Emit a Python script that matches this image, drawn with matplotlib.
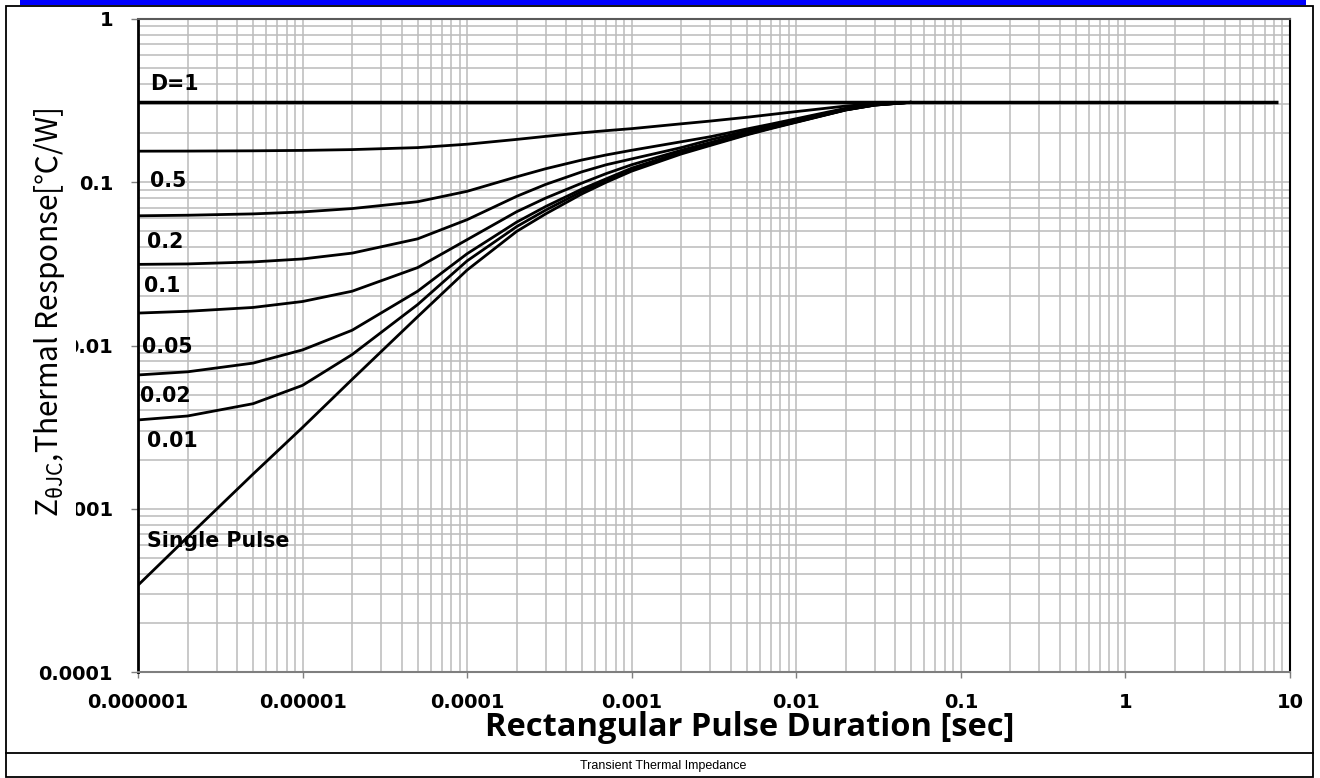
import matplotlib
matplotlib.use("Agg")
import matplotlib.pyplot as plt
from matplotlib import font_manager
from matplotlib.patches import Rectangle
from matplotlib.lines import Line2D
from matplotlib.ticker import LogLocator, NullFormatter

W, H = 1320, 778

t_read = [1e-6, 2e-6, 5e-6, 1e-5, 2e-5, 5e-5, 1e-4, 2e-4, 3e-4, 5e-4, 7e-4,
          1e-3, 2e-3, 3e-3, 5e-3, 7e-3, 1e-2, 2e-2, 3e-2, 5e-2]
# Z_thJC [C/W] for each duty cycle D
z_d05 = [0.155, 0.1552, 0.1558, 0.1567, 0.1585, 0.163, 0.171, 0.183, 0.191,
         0.201, 0.207, 0.213, 0.228, 0.237, 0.250, 0.260, 0.271, 0.293, 0.303, 0.309]
z_d02 = [0.0623, 0.0628, 0.0640, 0.0658, 0.069, 0.076, 0.088, 0.108, 0.121,
         0.137, 0.147, 0.157, 0.177, 0.190, 0.212, 0.227, 0.245, 0.284, 0.300, 0.309]
z_d01 = [0.0314, 0.0316, 0.0325, 0.0339, 0.0368, 0.0450, 0.059, 0.082, 0.097,
         0.116, 0.128, 0.139, 0.163, 0.182, 0.206, 0.222, 0.241, 0.281, 0.299, 0.309]
z_d005 = [0.0158, 0.0162, 0.0171, 0.0186, 0.0215, 0.030, 0.0445, 0.066, 0.080,
          0.099, 0.113, 0.128, 0.157, 0.175, 0.201, 0.218, 0.237, 0.279, 0.298, 0.309]
z_d002 = [0.0066, 0.0069, 0.0078, 0.0094, 0.0124, 0.0215, 0.0365, 0.057, 0.071,
          0.091, 0.105, 0.122, 0.153, 0.172, 0.198, 0.216, 0.235, 0.278, 0.297, 0.309]
z_d001 = [0.0035, 0.0037, 0.0044, 0.0057, 0.0088, 0.0178, 0.0330, 0.0535, 0.0675,
          0.088, 0.1025, 0.1195, 0.151, 0.170, 0.1965, 0.2145, 0.234, 0.2775, 0.297, 0.309]
z_single = [3.4e-4, 6.7e-4, 1.63e-3, 3.15e-3, 6.2e-3, 0.0150, 0.029, 0.050, 0.064,
            0.085, 0.100, 0.117, 0.149, 0.168, 0.195, 0.213, 0.233, 0.277, 0.297, 0.309]

t_d1 = [1e-6, 8.4]
z_d1 = [0.31, 0.31]

x_ticks = [1e-6, 1e-5, 1e-4, 1e-3, 1e-2, 1e-1, 1, 10]
x_ticklabels = ["0.000001", "0.00001", "0.0001", "0.001", "0.01", "0.1", "1", "10"]
y_ticks = [1e-4, 1e-3, 1e-2, 1e-1, 1]
y_ticklabels = ["0.0001", "0.001", "0.01", "0.1", "1"]

curve_labels = ["D=1", "0.5", "0.2", "0.1", "0.05", "0.02", "0.01", "Single Pulse"]
# label anchor (left edge, vertical centre) in pixels of the reference
label_px = [(150, 84), (150, 181), (147, 242), (144, 286), (142, 347),
            (140, 396), (147, 441), (147, 541)]


def fx(px):
    return px / W


def fy(py):
    return 1 - py / H


names = {f.name for f in font_manager.fontManager.ttflist}
cap_family = "Liberation Sans Narrow" if "Liberation Sans Narrow" in names else "Liberation Sans"

fig = plt.figure(figsize=(W / 100, H / 100), dpi=100)
ax_l, ax_r, ax_t, ax_b = 138, 1290, 19, 672
ax = fig.add_axes([fx(ax_l), fy(ax_b), (ax_r - ax_l) / W, (ax_b - ax_t) / H])
ax.set_xscale("log")
ax.set_yscale("log")
ax.set_xlim(1e-6, 10)
ax.set_ylim(1e-4, 1)

for z in [z_d05, z_d02, z_d01, z_d005, z_d002, z_d001, z_single]:
    ax.plot(t_read, z, color="black", lw=2.0, solid_joinstyle="round",
            solid_capstyle="butt", zorder=3)
ax.plot(t_d1, z_d1, color="black", lw=2.5, solid_capstyle="butt", zorder=3)

# grid: every decade and every 2..9 subdivision
ax.xaxis.set_minor_locator(LogLocator(base=10, subs=range(2, 10), numticks=100))
ax.yaxis.set_minor_locator(LogLocator(base=10, subs=range(2, 10), numticks=100))
ax.grid(True, which="both", color="#bdbdbd", lw=1.15)
ax.set_axisbelow(True)

tick_font = dict(fontsize=14, fontweight="bold", family="DejaVu Sans")
ax.set_xticks(x_ticks, labels=x_ticklabels, **tick_font)
ax.set_yticks(y_ticks, labels=y_ticklabels, **tick_font)
ax.xaxis.set_minor_formatter(NullFormatter())
ax.yaxis.set_minor_formatter(NullFormatter())
ax.tick_params(which="minor", length=0)
ax.tick_params(axis="x", which="major", direction="out", length=4, width=1,
               color="#7f7f7f", pad=11)
ax.tick_params(axis="y", which="major", direction="out", length=5, width=1,
               color="#7f7f7f", pad=13)

ax.spines["left"].set_color("black")
ax.spines["left"].set_linewidth(2.0)
ax.spines["right"].set_color("black")
ax.spines["right"].set_linewidth(1.5)
ax.spines["top"].set_color("#5a5a5a")
ax.spines["top"].set_linewidth(1.5)
ax.spines["bottom"].set_color("#7f7f7f")
ax.spines["bottom"].set_linewidth(1.5)

for s, (px, py) in zip(curve_labels, label_px):
    ax.text((px - ax_l) / (ax_r - ax_l), (ax_b - py) / (ax_b - ax_t), s,
            transform=ax.transAxes, ha="left", va="center",
            fontsize=14.8, fontweight="bold", family="DejaVu Sans", zorder=4)

# axis titles
fig.text(fx(50), fy(312), "Z$_{\\mathregular{θJC}}$,Thermal Response[℃/W]",
         rotation=90, ha="center", va="center", fontsize=21.5,
         family="Noto Sans CJK SC",
         bbox=dict(facecolor="white", edgecolor="none", boxstyle="square,pad=0.3"))
fig.text(fx(750), fy(727), "Rectangular Pulse Duration [sec]", ha="center",
         va="center", fontsize=23.5, fontweight="bold", family="Open Sans")

# frame, caption strip and blue rule
fig.add_artist(Rectangle((fx(20), fy(5)), (1306 - 20) / W, 5 / H,
                         transform=fig.transFigure, facecolor="#0000ff",
                         edgecolor="none"))
fig.add_artist(Rectangle((fx(6), fy(777)), (1313 - 6) / W, (777 - 6) / H,
                         transform=fig.transFigure, fill=False,
                         edgecolor="black", lw=1.3))
fig.add_artist(Line2D([fx(6), fx(1313)], [fy(753), fy(753)],
                      transform=fig.transFigure, color="black", lw=1.3))
fig.text(fx(663), fy(766), "Transient Thermal Impedance", ha="center",
         va="center", fontsize=9, family=cap_family)

fig.savefig("out.png", dpi=100)
